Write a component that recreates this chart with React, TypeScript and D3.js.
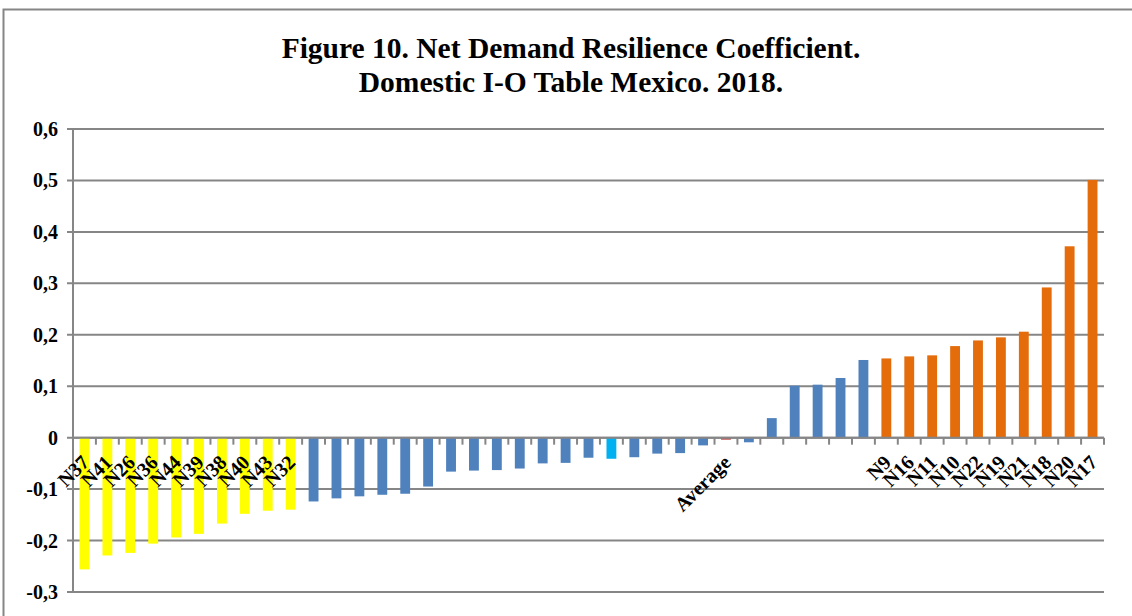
import React, { useEffect, useRef } from "react";
import * as d3 from "d3";

// category labels (blank ones are not shown on the axis)
const labels = [
  "N37", "N41", "N26", "N36", "N44", "N39", "N38", "N40", "N43", "N32",
  "", "", "", "", "", "", "", "", "", "", "", "", "", "", "", "", "", "",
  "Average", "", "", "", "", "", "",
  "N9", "N16", "N11", "N10", "N22", "N19", "N21", "N18", "N20", "N17",
];

const values = [
  -0.256, -0.229, -0.224, -0.206, -0.194, -0.187, -0.167, -0.148, -0.142, -0.14,
  -0.124, -0.118, -0.114, -0.111, -0.109, -0.095, -0.066, -0.064, -0.063, -0.06,
  -0.05, -0.049, -0.039, -0.041, -0.038, -0.031, -0.03, -0.015,
  -0.004, -0.009, 0.038, 0.101, 0.103, 0.116, 0.151,
  0.154, 0.158, 0.16, 0.178, 0.189, 0.195, 0.206, 0.292, 0.372, 0.501,
];

const groups = [
  "low", "low", "low", "low", "low", "low", "low", "low", "low", "low",
  "mid", "mid", "mid", "mid", "mid", "mid", "mid", "mid", "mid", "mid",
  "mid", "mid", "mid", "mark", "mid", "mid", "mid", "mid",
  "avg", "mid", "mid", "mid", "mid", "mid", "mid",
  "high", "high", "high", "high", "high", "high", "high", "high", "high", "high",
];

const yTicks = [-0.3, -0.2, -0.1, 0, 0.1, 0.2, 0.3, 0.4, 0.5, 0.6];
const titleLines = [
  "Figure 10. Net Demand Resilience Coefficient.",
  "Domestic I-O Table Mexico. 2018.",
];

const colors: Record<string, string> = {
  low: "#ffff00",
  mid: "#4f81bd",
  mark: "#00b0f0",
  avg: "#c0504d",
  high: "#e46c0a",
};

const App: React.FC = () => {
  const svgRef = useRef<SVGSVGElement | null>(null);

  useEffect(() => {
    if (!svgRef.current) return;
    const width = 1132;
    const height = 616;
    const left = 73;
    const right = 1104;
    const top = 129;
    const bottom = 592;
    const font = "'Liberation Serif', 'Times New Roman', serif";

    const svg = d3.select(svgRef.current);
    svg.selectAll("*").remove();
    svg.attr("width", width).attr("height", height);

    svg.append("rect").attr("width", width).attr("height", height).attr("fill", "#fff");
    // chart border
    svg.append("rect")
      .attr("x", 3.5).attr("y", 9.5)
      .attr("width", 1160).attr("height", 640)
      .attr("fill", "none").attr("stroke", "#868686").attr("stroke-width", 2);

    svg.selectAll(".title")
      .data(titleLines)
      .enter()
      .append("text")
      .attr("x", 571)
      .attr("y", (_, i) => 58 + i * 34)
      .attr("text-anchor", "middle")
      .style("font-family", font)
      .style("font-weight", "bold")
      .style("font-size", "29.5px")
      .text((d) => d);

    const ids = labels.map((_, i) => String(i));
    const x = d3.scaleBand().domain(ids).range([left, right]).paddingInner(0.57).paddingOuter(0.285);
    const y = d3.scaleLinear().domain([-0.3, 0.6]).range([bottom, top]);

    // gridlines
    svg.selectAll(".grid")
      .data(yTicks)
      .enter()
      .append("line")
      .attr("x1", left - 6).attr("x2", right)
      .attr("y1", (d) => y(d)).attr("y2", (d) => y(d))
      .attr("stroke", "#868686").attr("stroke-width", 2);

    svg.append("line")
      .attr("x1", left).attr("x2", left)
      .attr("y1", top).attr("y2", bottom + 1)
      .attr("stroke", "#868686").attr("stroke-width", 2);

    svg.selectAll(".ylab")
      .data(yTicks)
      .enter()
      .append("text")
      .attr("x", left - 15)
      .attr("y", (d) => y(d))
      .attr("dy", "0.35em")
      .attr("text-anchor", "end")
      .style("font-family", font)
      .style("font-weight", "bold")
      .style("font-size", "20px")
      .text((d) => (d === 0 ? "0" : d3.format(".1f")(d).replace(".", ",").replace("−", "-")));

    // bars
    svg.selectAll(".bar")
      .data(values)
      .enter()
      .append("rect")
      .attr("x", (_, i) => x(ids[i]) as number)
      .attr("width", x.bandwidth())
      .attr("y", (d) => y(Math.max(0, d)))
      .attr("height", (d) => Math.abs(y(d) - y(0)))
      .attr("fill", (_, i) => colors[groups[i]]);

    // category ticks on zero line
    const step = x.step();
    svg.selectAll(".xtick")
      .data(d3.range(ids.length + 1))
      .enter()
      .append("line")
      .attr("x1", (i) => left + i * step).attr("x2", (i) => left + i * step)
      .attr("y1", y(0)).attr("y2", y(0) + 7)
      .attr("stroke", "#868686").attr("stroke-width", 2);

    svg.append("line")
      .attr("x1", left).attr("x2", right)
      .attr("y1", y(0)).attr("y2", y(0))
      .attr("stroke", "#868686").attr("stroke-width", 2);

    // rotated category labels
    const named = labels.map((d, i) => ({ d, i })).filter((o) => o.d !== "");
    svg.selectAll(".xlab")
      .data(named)
      .enter()
      .append("text")
      .attr("transform", (o) => {
        const cx = (x(ids[o.i]) as number) + x.bandwidth() / 2 + 1;
        return `translate(${cx}, ${y(0) + 21}) rotate(-45)`;
      })
      .attr("text-anchor", "end")
      .attr("dy", "0.35em")
      .style("font-family", font)
      .style("font-weight", "bold")
      .style("font-size", "20px")
      .text((o) => o.d);
  }, []);

  return (
    <div style={{ position: "absolute", left: 0, top: 0 }}>
      <svg ref={svgRef} style={{ display: "block" }}></svg>
    </div>
  );
};

export default App;
